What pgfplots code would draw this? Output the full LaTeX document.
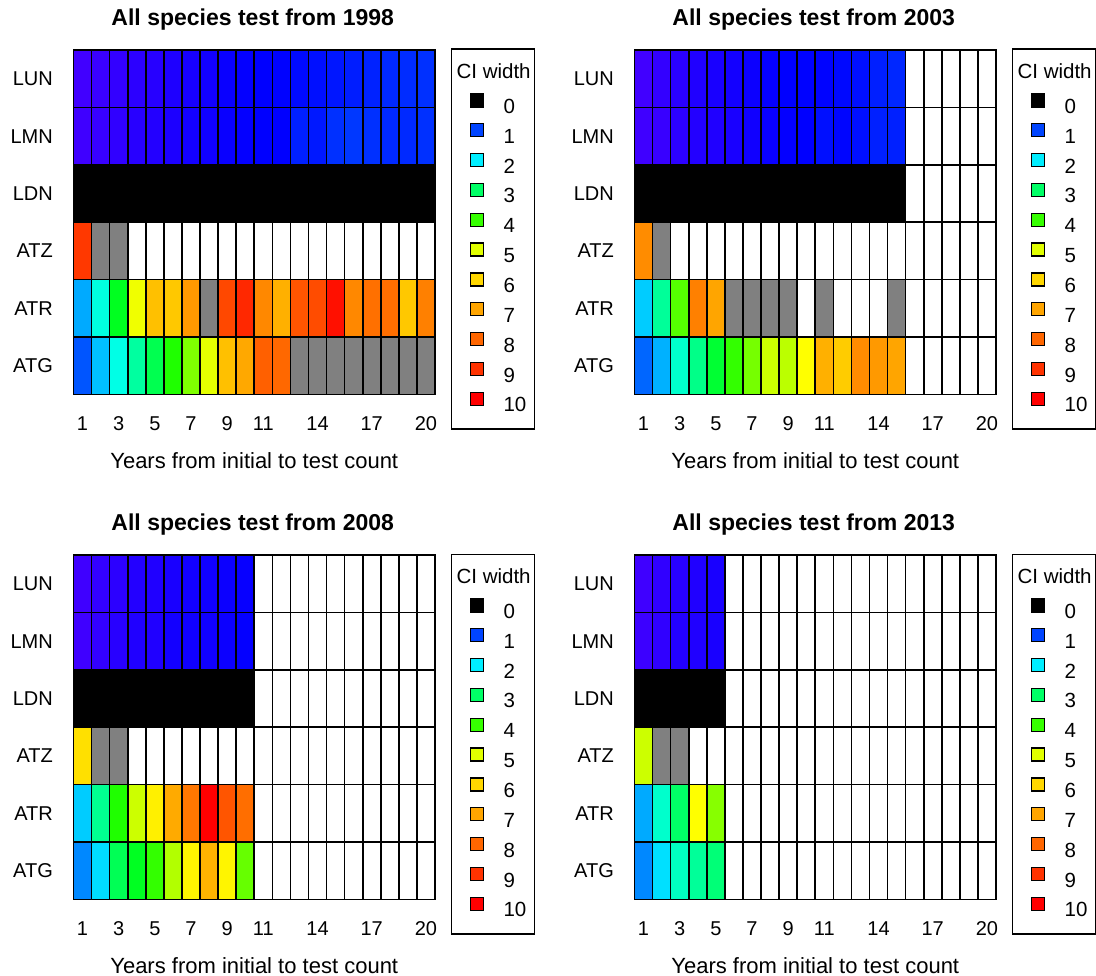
\documentclass[border=0pt]{standalone}
\usepackage{pgfplots}
\pgfplotsset{compat=1.18}
\usepackage{pgfplotstable}
\usepackage{fontspec}
\setmainfont{Liberation Sans}

% one heat-map cell (width = 1 x unit, height = 1 y unit of the axes below), black border
\pgfdeclareplotmark{cell}{\pgfpathrectangle{\pgfpoint{-9.0375pt}{-28.708pt}}{\pgfpoint{18.075pt}{57.417pt}}\pgfusepathqfillstroke}

\definecolor{c0}{RGB}{0,0,0}
\definecolor{c1}{RGB}{0,68,255}
\definecolor{c2}{RGB}{0,238,255}
\definecolor{c3}{RGB}{0,255,102}
\definecolor{c4}{RGB}{54,255,0}
\definecolor{c5}{RGB}{225,255,0}
\definecolor{c6}{RGB}{255,215,0}
\definecolor{c7}{RGB}{255,165,0}
\definecolor{c8}{RGB}{255,102,0}
\definecolor{c9}{RGB}{255,51,0}
\definecolor{c10}{RGB}{255,0,0}

% x = years from initial to test count, y = row (6 LUN, 5 LMN, 4 LDN, 3 ATZ, 2 ATR, 1 ATG),
% v = CI width (-1 = grey cell); cells that are not listed are empty
\pgfplotstableread[row sep=\\]{
x y v\\
1 6 0.23\\ 2 6 0.27\\ 3 6 0.31\\ 4 6 0.35\\ 5 6 0.38\\ 6 6 0.43\\ 7 6 0.47\\ 8 6 0.50\\ 9 6 0.55\\ 10 6 0.58\\ 11 6 0.60\\ 12 6 0.61\\ 13 6 0.66\\ 14 6 0.69\\ 15 6 0.73\\ 16 6 0.77\\ 17 6 0.80\\ 18 6 0.84\\ 19 6 0.86\\ 20 6 0.88\\
1 5 0.24\\ 2 5 0.28\\ 3 5 0.33\\ 4 5 0.37\\ 5 5 0.40\\ 6 5 0.44\\ 7 5 0.49\\ 8 5 0.51\\ 9 5 0.55\\ 10 5 0.58\\ 11 5 0.60\\ 12 5 0.60\\ 13 5 0.79\\ 14 5 0.74\\ 15 5 0.88\\ 16 5 0.93\\ 17 5 0.88\\ 18 5 0.84\\ 19 5 0.84\\ 20 5 0.88\\
1 4 0\\ 2 4 0\\ 3 4 0\\ 4 4 0\\ 5 4 0\\ 6 4 0\\ 7 4 0\\ 8 4 0\\ 9 4 0\\ 10 4 0\\ 11 4 0\\ 12 4 0\\ 13 4 0\\ 14 4 0\\ 15 4 0\\ 16 4 0\\ 17 4 0\\ 18 4 0\\ 19 4 0\\ 20 4 0\\
1 3 8.97\\ 2 3 -1\\ 3 3 -1\\
1 2 1.60\\ 2 2 2.28\\ 3 2 3.41\\ 4 2 5.20\\ 5 2 6.46\\ 6 2 6.31\\ 7 2 7.18\\ 8 2 -1\\ 9 2 8.67\\ 10 2 9.26\\ 11 2 7.49\\ 12 2 6.76\\ 13 2 8.43\\ 14 2 8.60\\ 15 2 9.70\\ 16 2 7.49\\ 17 2 7.94\\ 18 2 7.97\\ 19 2 6.31\\ 20 2 7.64\\
1 1 1.10\\ 2 1 1.73\\ 3 1 2.25\\ 4 1 2.66\\ 5 1 3.13\\ 6 1 3.81\\ 7 1 4.45\\ 8 1 5.13\\ 9 1 6.46\\ 10 1 6.90\\ 11 1 8.23\\ 12 1 8.08\\ 13 1 -1\\ 14 1 -1\\ 15 1 -1\\ 16 1 -1\\ 17 1 -1\\ 18 1 -1\\ 19 1 -1\\ 20 1 -1\\
}\tA

\pgfplotstableread[row sep=\\]{
x y v\\
1 6 0.23\\ 2 6 0.31\\ 3 6 0.36\\ 4 6 0.42\\ 5 6 0.46\\ 6 6 0.49\\ 7 6 0.53\\ 8 6 0.57\\ 9 6 0.60\\ 10 6 0.61\\ 11 6 0.62\\ 12 6 0.65\\ 13 6 0.69\\ 14 6 0.78\\ 15 6 0.83\\
1 5 0.24\\ 2 5 0.28\\ 3 5 0.35\\ 4 5 0.40\\ 5 5 0.42\\ 6 5 0.46\\ 7 5 0.51\\ 8 5 0.55\\ 9 5 0.58\\ 10 5 0.60\\ 11 5 0.69\\ 12 5 0.63\\ 13 5 0.69\\ 14 5 0.79\\ 15 5 0.79\\
1 4 0\\ 2 4 0\\ 3 4 0\\ 4 4 0\\ 5 4 0\\ 6 4 0\\ 7 4 0\\ 8 4 0\\ 9 4 0\\ 10 4 0\\ 11 4 0\\ 12 4 0\\ 13 4 0\\ 14 4 0\\ 15 4 0\\
1 3 7.42\\ 2 3 -1\\
1 2 1.80\\ 2 2 2.70\\ 3 2 4.17\\ 4 2 7.64\\ 5 2 6.96\\ 6 2 -1\\ 7 2 -1\\ 8 2 -1\\ 9 2 -1\\ 11 2 -1\\ 15 2 -1\\
1 1 1.20\\ 2 1 1.64\\ 3 1 2.40\\ 4 1 2.80\\ 5 1 3.30\\ 6 1 3.94\\ 7 1 4.39\\ 8 1 4.96\\ 9 1 4.85\\ 10 1 5.30\\ 11 1 6.76\\ 12 1 6.24\\ 13 1 7.42\\ 14 1 7.18\\ 15 1 6.96\\
}\tB

\pgfplotstableread[row sep=\\]{
x y v\\
1 6 0.24\\ 2 6 0.31\\ 3 6 0.35\\ 4 6 0.40\\ 5 6 0.42\\ 6 6 0.46\\ 7 6 0.50\\ 8 6 0.51\\ 9 6 0.53\\ 10 6 0.56\\
1 5 0.24\\ 2 5 0.31\\ 3 5 0.37\\ 4 5 0.42\\ 5 5 0.42\\ 6 5 0.49\\ 7 5 0.51\\ 8 5 0.51\\ 9 5 0.53\\ 10 5 0.58\\
1 4 0\\ 2 4 0\\ 3 4 0\\ 4 4 0\\ 5 4 0\\ 6 4 0\\ 7 4 0\\ 8 4 0\\ 9 4 0\\ 10 4 0\\
1 3 5.87\\ 2 3 -1\\ 3 3 -1\\
1 2 1.80\\ 2 2 2.75\\ 3 2 3.81\\ 4 2 4.96\\ 5 2 5.58\\ 6 2 6.87\\ 7 2 7.81\\ 8 2 10.0\\ 9 2 8.43\\ 10 2 7.97\\
1 1 1.40\\ 2 1 1.90\\ 3 1 3.10\\ 4 1 3.40\\ 5 1 3.94\\ 6 1 4.79\\ 7 1 5.48\\ 8 1 6.70\\ 9 1 5.48\\ 10 1 4.28\\
}\tC

\pgfplotstableread[row sep=\\]{
x y v\\
1 6 0.24\\ 2 6 0.33\\ 3 6 0.37\\ 4 6 0.42\\ 5 6 0.46\\
1 5 0.26\\ 2 5 0.33\\ 3 5 0.40\\ 4 5 0.42\\ 5 5 0.46\\
1 4 0\\ 2 4 0\\ 3 4 0\\ 4 4 0\\ 5 4 0\\
1 3 4.96\\ 2 3 -1\\ 3 3 -1\\
1 2 1.60\\ 2 2 2.40\\ 3 2 3.00\\ 4 2 5.30\\ 5 2 4.50\\
1 1 1.40\\ 2 1 1.92\\ 3 1 2.47\\ 4 1 2.70\\ 5 1 2.90\\
}\tD

\pgfplotsset{
  ciaxis/.style={
    scale only axis, width=361.5pt, height=344.5pt, anchor=north west,
    xmin=0.5, xmax=20.5, ymin=0.5, ymax=6.5, enlargelimits=false,
    xtick={1,3,5,7,9,11,14,17,20}, xticklabels={1,3,5,7,9,11,14,17,20},
    ytick={1,2,3,4,5,6}, yticklabels={ATG,ATR,ATZ,LDN,LMN,LUN},
    minor xtick={1.5,2.5,...,19.5}, minor ytick={1.5,2.5,...,5.5},
    xminorgrids=true, yminorgrids=true,
    minor grid style={black, line width=1.6pt},
    major tick length=0pt, minor tick length=0pt,
    axis on top, axis line style={black, line width=1.7pt},
    colormap={ciw}{rgb255(0cm)=(128,128,128); rgb255(1cm)=(0,0,0); rgb255(1.1cm)=(88,0,255); rgb255(1.6cm)=(0,0,255); rgb255(3.1cm)=(0,255,255); rgb255(4.6cm)=(0,255,0); rgb255(6.3cm)=(255,255,0); rgb255(11cm)=(255,0,0)},
    point meta min=-1, point meta max=10,
    /pgf/number format/assume math mode=true,
    tick label style={font=\fontsize{20}{24}\selectfont},
    x tick label style={anchor=center, yshift=-29pt},
    y tick label style={anchor=east, inner sep=0pt, xshift=-20.5pt},
    xlabel={Years from initial to test count},
    every axis x label/.style={at={(axis description cs:0.5,0)}, anchor=center, yshift=-66pt, font=\fontsize{22}{26}\selectfont},
    every axis title/.style={at={(axis description cs:0.5,1)}, anchor=center, yshift=30pt, xshift=-1.5pt, font=\fontsize{23}{27}\selectfont\bfseries},
    legend style={at={(axis description cs:1,1)}, anchor=north west, xshift=15.5pt, yshift=1.5pt,
      draw=black, line width=1.4pt, inner xsep=4pt, inner ysep=14pt, row sep=6.7pt, column sep=0pt,
      font=\fontsize{20.5}{24}\selectfont,
      nodes={inner sep=0pt, text height=15pt, text depth=3pt}},
    legend cell align=left,
    legend image code/.code={\path (0pt,0pt) (47pt,0pt); \draw[##1, draw=black, line width=1.3pt] (14.5pt,0.5pt) rectangle (27.5pt,13.5pt);},
  },
  cellplot/.style={forget plot, scatter, only marks, mark=cell, point meta=explicit,
    scatter/use mapped color={draw=black, line width=1.6pt, fill=mapped color}},
}

\newcommand{\cilegend}{%
  \addlegendimage{empty legend}\addlegendentry[text depth=8.3pt]{\hspace{-47pt}CI width}
  \addlegendimage{fill=c0}\addlegendentry{0}
  \addlegendimage{fill=c1}\addlegendentry{1}
  \addlegendimage{fill=c2}\addlegendentry{2}
  \addlegendimage{fill=c3}\addlegendentry{3}
  \addlegendimage{fill=c4}\addlegendentry{4}
  \addlegendimage{fill=c5}\addlegendentry{5}
  \addlegendimage{fill=c6}\addlegendentry{6}
  \addlegendimage{fill=c7}\addlegendentry{7}
  \addlegendimage{fill=c8}\addlegendentry{8}
  \addlegendimage{fill=c9}\addlegendentry{9}
  \addlegendimage{fill=c10}\addlegendentry{10}
}

\begin{document}
\begin{tikzpicture}
\useasboundingbox (0pt,0pt) rectangle (1096pt,-976pt);
\begin{axis}[ciaxis, at={(73.5pt,-50pt)}, title={All species test from 1998}]
  \addplot[cellplot] table[x=x, y=y, meta=v] {\tA};
  \cilegend
\end{axis}
\begin{axis}[ciaxis, at={(634.5pt,-50pt)}, title={All species test from 2003}]
  \addplot[cellplot] table[x=x, y=y, meta=v] {\tB};
  \cilegend
\end{axis}
\begin{axis}[ciaxis, at={(73.5pt,-555pt)}, title={All species test from 2008}]
  \addplot[cellplot] table[x=x, y=y, meta=v] {\tC};
  \cilegend
\end{axis}
\begin{axis}[ciaxis, at={(634.5pt,-555pt)}, title={All species test from 2013}]
  \addplot[cellplot] table[x=x, y=y, meta=v] {\tD};
  \cilegend
\end{axis}
\end{tikzpicture}
\end{document}
